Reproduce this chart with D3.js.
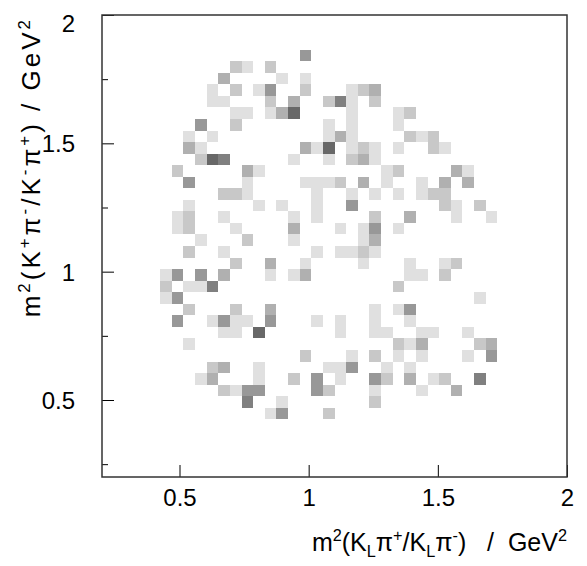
<!DOCTYPE html>
<html>
<head>
<meta charset="utf-8">
<script src="https://cdn.jsdelivr.net/npm/d3@7"></script>
<style>
  body { margin: 0; background: #fff; }
  svg text { font-family: "Liberation Sans", Arial, Helvetica, sans-serif; fill: #000; }
</style>
</head>
<body>
<div id="chart"></div>
<script>
// histogram binning: 40 x 40 bins between 0.2 and 2 GeV^2
var range = [0.2, 2];
var nBins = 40;
var binWidth = (range[1] - range[0]) / nBins;

// filled bins: [x bin, y bin, entries]
var cells = [
    [17,36,4],
    [11,35,2],[12,35,1],[14,35,2],
    [10,34,3],[15,34,1],[17,34,1],
    [9,33,1],[11,33,2],[13,33,1],[14,33,4],[17,33,2],[21,33,1],[22,33,2],[23,33,3],
    [9,32,1],[10,32,1],[14,32,2],[16,32,3],[19,32,2],[20,32,5],[21,32,1],[23,32,2],
    [11,31,1],[12,31,1],[14,31,1],[15,31,3],[16,31,6],[21,31,1],[25,31,1],[26,31,2],
    [8,30,4],[11,30,2],[19,30,1],[21,30,1],[25,30,1],
    [7,29,1],[9,29,1],[19,29,1],[20,29,3],[21,29,1],[26,29,2],[27,29,1],[28,29,2],
    [7,28,3],[8,28,1],[17,28,3],[18,28,1],[19,28,6],[21,28,1],[22,28,2],[23,28,1],[25,28,1],[28,28,2],[29,28,1],
    [8,27,2],[9,27,6],[10,27,5],[16,27,1],[19,27,1],[21,27,2],[22,27,3],[23,27,1],
    [6,26,2],[12,26,3],[13,26,1],[24,26,1],[25,26,2],[30,26,3],[31,26,1],
    [7,25,4],[12,25,1],[17,25,1],[18,25,1],[19,25,1],[20,25,2],[22,25,3],[24,25,1],[27,25,1],[29,25,3],[31,25,3],
    [10,24,2],[11,24,2],[12,24,1],[18,24,1],[21,24,1],[23,24,1],[25,24,1],[27,24,1],[28,24,2],[29,24,2],
    [7,23,1],[13,23,1],[15,23,1],[18,23,1],[21,23,4],[29,23,2],[30,23,1],[32,23,2],
    [6,22,1],[7,22,2],[10,22,1],[16,22,1],[18,22,1],[23,22,2],[26,22,3],[30,22,1],[33,22,1],
    [6,21,1],[7,21,2],[11,21,1],[16,21,3],[20,21,1],[22,21,1],[23,21,4],[25,21,1],
    [8,20,1],[12,20,2],[16,20,1],[22,20,1],[23,20,3],
    [7,19,2],[10,19,1],[18,19,1],[20,19,1],[21,19,1],[22,19,2],[23,19,1],
    [11,18,2],[14,18,3],[17,18,1],[22,18,1],[26,18,1],[29,18,1],[30,18,2],
    [5,17,1],[6,17,4],[8,17,4],[10,17,3],[14,17,1],[16,17,1],[17,17,3],[26,17,1],[27,17,1],[29,17,2],
    [5,16,2],[7,16,1],[8,16,1],[9,16,5],[25,16,2],
    [5,15,1],[6,15,4],[32,15,1],
    [7,14,2],[11,14,2],[14,14,3],[23,14,1],[25,14,1],[26,14,4],
    [6,13,4],[9,13,1],[10,13,4],[11,13,1],[12,13,1],[14,13,4],[18,13,1],[20,13,1],[23,13,1],[26,13,1],
    [10,12,1],[11,12,1],[13,12,6],[20,12,1],[23,12,1],[24,12,1],[27,12,1],[28,12,1],[31,12,1],
    [7,11,1],[25,11,2],[26,11,1],[27,11,3],[32,11,2],[33,11,3],
    [17,10,2],[21,10,1],[23,10,2],[25,10,1],[27,10,1],[31,10,1],[33,10,4],
    [9,9,2],[10,9,3],[13,9,1],[19,9,1],[20,9,1],[21,9,4],[24,9,1],[26,9,1],
    [8,8,1],[9,8,3],[13,8,1],[16,8,2],[18,8,4],[20,8,1],[23,8,4],[24,8,2],[26,8,3],[28,8,1],[29,8,2],[32,8,5],
    [10,7,2],[11,7,1],[12,7,4],[13,7,4],[18,7,4],[19,7,2],[23,7,1],[27,7,1],[30,7,3],
    [12,6,5],[15,6,1],[23,6,2],
    [14,5,1],[15,5,4],[19,5,2]
];

var majorTicks = [0.5, 1, 1.5, 2];
var minorTicksY = [0.25, 0.75, 1.25, 1.75];

var xTitle = [["m",""],["2","sup"],["(K",""],["L","sub"],["\u03c0",""],["+","sup"],["/K",""],["L","sub"],["\u03c0",""],["-","sup"],[")\u00a0\u00a0\u00a0/\u00a0\u00a0GeV",""],["2","sup"]];
var yTitle = [["m",""],["2","sup"],["(K",""],["+","sup"],["\u03c0",""],["-","sup"],["/K",""],["-","sup"],["\u03c0",""],["+","sup"],[")\u00a0/\u00a0GeV",""],["2","sup"]];

var width = 587, height = 566;
var margin = {left: 102, right: 20, top: 15, bottom: 89};

var svg = d3.select('#chart').append('svg')
    .attr('width', width)
    .attr('height', height);

var xScale = d3.scaleLinear().domain(range).range([margin.left, width - margin.right]);
var yScale = d3.scaleLinear().domain(range).range([height - margin.bottom, margin.top]);
var grey = d3.scaleLinear().domain([1, 6]).range([224, 104]).clamp(true);

// cells
svg.append('g').selectAll('rect').data(cells)
    .enter().append('rect')
        .attr('x', function(d) { return xScale(range[0] + d[0]*binWidth); })
        .attr('y', function(d) { return yScale(range[0] + (d[1]+1)*binWidth); })
        .attr('width', function(d) { return xScale(range[0] + (d[0]+1)*binWidth) - xScale(range[0] + d[0]*binWidth); })
        .attr('height', function(d) { return yScale(range[0] + d[1]*binWidth) - yScale(range[0] + (d[1]+1)*binWidth); })
        .style('fill', function(d) {
            var g = Math.round(grey(d[2]));
            return d3.rgb(g, g, g);
        })
        .attr('shape-rendering', 'crispEdges');

// axes, ticks drawn inwards like ROOT
var xAxis = d3.axisBottom(xScale).tickValues(majorTicks).tickSizeInner(-12).tickSizeOuter(0)
    .tickFormat(d3.format('~g'));
var gx = svg.append('g').attr('transform', 'translate(0,' + yScale(range[0]) + ')').call(xAxis);
gx.selectAll('text').attr('dy', null).attr('y', 29).style('font-size', '24px');

var yAxis = d3.axisLeft(yScale).tickValues(majorTicks).tickSizeInner(-12).tickSizeOuter(0)
    .tickFormat(d3.format('~g'));
var gy = svg.append('g').attr('transform', 'translate(' + xScale(range[0]) + ',0)').call(yAxis);
gy.selectAll('text').attr('x', -27).style('font-size', '24px')
    .attr('dy', function(d) { return d === 2 ? '0.67em' : '0.35em'; });

svg.append('g').attr('transform', 'translate(' + xScale(range[0]) + ',0)')
    .call(d3.axisLeft(yScale).tickValues(minorTicksY).tickSizeInner(-6).tickSizeOuter(0).tickFormat(''));

svg.selectAll('.domain').remove();
svg.selectAll('.tick line').attr('stroke', '#000').attr('stroke-width', 1);

// frame
svg.append('rect')
    .attr('x', xScale(range[0]))
    .attr('y', yScale(range[1]))
    .attr('width', xScale(range[1]) - xScale(range[0]))
    .attr('height', yScale(range[0]) - yScale(range[1]))
    .attr('fill', 'none')
    .attr('stroke', '#333')
    .attr('stroke-width', 1.5);

// text with super/subscripts, shifts in px so the baseline can be restored
function richText(sel, parts, fs) {
    var cur = 0;
    parts.forEach(function(p) {
        var target = p[1] === 'sup' ? -0.4*fs : (p[1] === 'sub' ? 0.22*fs : 0);
        var t = sel.append('tspan').text(p[0]).attr('dy', target - cur);
        if (p[1]) t.attr('font-size', (0.65*fs) + 'px');
        cur = target;
    });
}

var xt = svg.append('text')
    .attr('x', 567)
    .attr('y', 551)
    .attr('text-anchor', 'end')
    .style('font-size', '25px');
richText(xt, xTitle, 25);

var yt = svg.append('text')
    .attr('transform', 'translate(40,' + (yScale(range[1]) + 2) + ') rotate(-90)')
    .attr('text-anchor', 'end')
    .style('font-size', '26px')
    .style('letter-spacing', '3px');
richText(yt, yTitle, 26);
</script>
</body>
</html>
